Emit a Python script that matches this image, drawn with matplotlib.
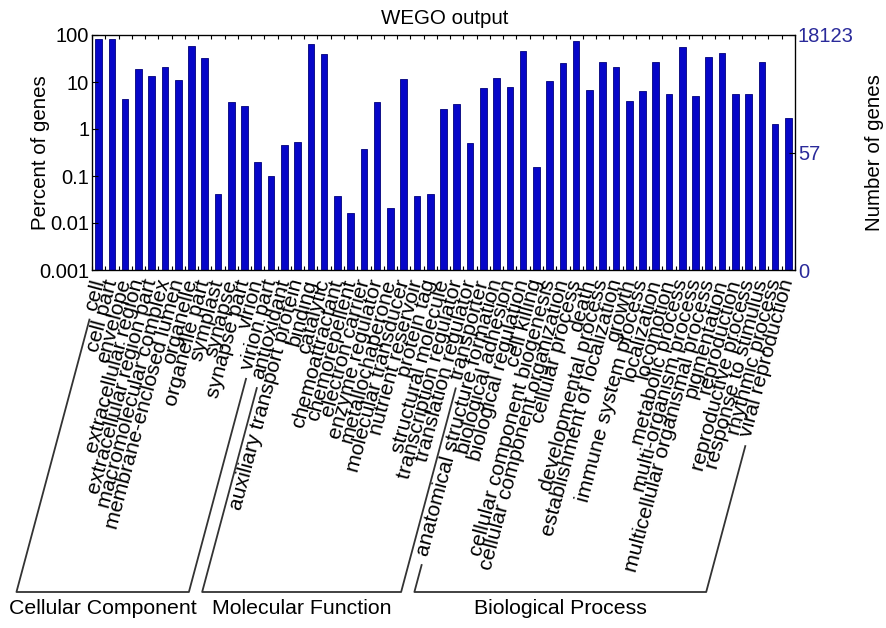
import numpy as np
import matplotlib
matplotlib.use("Agg")
import matplotlib.pyplot as plt
from matplotlib.lines import Line2D

plt.rcParams['font.family'] = ['Liberation Sans', 'DejaVu Sans']

cc_terms = ["cell", "cell part", "envelope", "extracellular region",
            "extracellular region part", "macromolecular complex",
            "membrane-enclosed lumen", "organelle", "organelle part",
            "symplast", "synapse", "synapse part", "virion", "virion part"]
cc_pct = [81, 81, 4.4, 18.5, 13.4, 21, 11, 58, 33, 0.042, 3.8, 3.05, 0.196, 0.1]

mf_terms = ["antioxidant", "auxiliary transport protein", "binding", "catalytic",
            "chemoattractant", "chemorepellent", "electron carrier",
            "enzyme regulator", "metallochaperone", "molecular transducer",
            "nutrient reservoir", "protein tag", "structural molecule",
            "transcription regulator", "translation regulator", "transporter"]
mf_pct = [0.46, 0.52, 65, 38.6, 0.037, 0.016, 0.37, 3.8, 0.021, 11.7,
          0.037, 0.042, 2.7, 3.4, 0.5, 7.5]

bp_terms = ["anatomical structure formation", "biological adhesion",
            "biological regulation", "cell killing",
            "cellular component biogenesis", "cellular component organization",
            "cellular process", "death", "developmental process",
            "establishment of localization", "growth", "immune system process",
            "localization", "locomotion", "metabolic process",
            "multi-organism process", "multicellular organismal process",
            "pigmentation", "reproduction", "reproductive process",
            "response to stimulus", "rhythmic process", "viral reproduction"]
bp_pct = [12.3, 8, 45, 0.155, 10.5, 25, 75, 6.8, 26.7, 21, 4.0, 6.4, 26.7,
          5.5, 55, 5.0, 34.7, 42, 5.6, 5.6, 26.7, 1.3, 1.74]

group_names = ["Cellular Component", "Molecular Function", "Biological Process"]
group_terms = [cc_terms, mf_terms, bp_terms]

y_ticks = [0.001, 0.01, 0.1, 1, 10, 100]
y_ticklabels = ["0.001", "0.01", "0.1", "1", "10", "100"]
total_genes = 18123
right_counts = [0, 57, 18123]
right_labels = ["0", "57", "18123"]

terms = cc_terms + mf_terms + bp_terms
pct = np.array(cc_pct + mf_pct + bp_pct, dtype=float)
n = len(terms)
x = np.arange(n)

W, H, DPI = 886, 628, 100
fig = plt.figure(figsize=(W / DPI, H / DPI), dpi=DPI)
ax = fig.add_axes([92 / W, 1 - 270 / H, (795 - 92) / W, (270 - 35) / H])

ymin = 1e-3
ax.bar(x, pct - ymin, bottom=ymin, width=0.5, color='#0606c8',
       edgecolor='#00007a', linewidth=0.6)
ax.set_yscale('log')
ax.set_ylim(ymin, 100)
ax.set_xlim(-0.5, n - 0.5)

FS = 14.5
FSX = 15.3
ROT = 75
PAD_PT = 7
ax.set_yticks(y_ticks)
ax.set_yticklabels(y_ticklabels, fontsize=FS)
ax.yaxis.set_minor_locator(matplotlib.ticker.NullLocator())
ax.tick_params(axis='y', which='major', direction='in', length=4, width=0.8, pad=2)

ax.set_xticks(x)
ax.set_xticklabels(terms, fontsize=FSX, rotation=ROT, ha='right', va='center',
                   rotation_mode='anchor')
ax.tick_params(axis='x', which='major', length=0, pad=PAD_PT)
ax.set_xticks(np.arange(-0.5, n, 1.0), minor=True)
ax.tick_params(axis='x', which='minor', direction='in', length=3, width=0.8,
               top=True, bottom=True)

ax.set_ylabel('Percent of genes', fontsize=14.8)
ax.yaxis.set_label_coords((50 - 92) / 703, 0.5)

for s in ax.spines.values():
    s.set_linewidth(0.9)

ax2 = ax.twinx()
ax2.set_yscale('log')
ax2.set_ylim(ymin, 100)
rpos = [ymin if c == 0 else c / total_genes * 100 for c in right_counts]
ax2.set_yticks(rpos)
ax2.set_yticklabels(right_labels, fontsize=FS, color='#2a2a9a')
ax2.yaxis.set_minor_locator(matplotlib.ticker.NullLocator())
ax2.tick_params(axis='y', which='major', direction='in', length=4, width=0.8, pad=2)
ax2.set_ylabel('Number of genes', fontsize=14.8)
ax2.yaxis.set_label_coords((865 - 92) / 703, 0.5)

fig.text(445 / W, 1 - 19 / H, 'WEGO output', ha='center', va='center', fontsize=14.8)

# Category brackets
fig.canvas.draw()
r = fig.canvas.get_renderer()
theta = np.deg2rad(ROT)
ya = ax.bbox.y0 - PAD_PT * DPI / 72.0
ybot = H - 592
gap = 9.5

def text_len(s):
    t = fig.text(0, 0, s, fontsize=FSX)
    w = t.get_window_extent(r).width
    t.remove()
    return w

start = 0
for name, tl in zip(group_names, group_terms):
    i0, i1 = start, start + len(tl) - 1
    pts = []
    for idx in (i0, i1):
        xa = ax.transData.transform((idx, 1))[0] + 1.5
        d = text_len(terms[idx]) + gap
        xt, yt = xa - d * np.cos(theta), ya - d * np.sin(theta)
        xb = xa - (ya - ybot) / np.tan(theta)
        pts.append(((xt, yt), (xb, ybot)))
    (lt, lb), (rt, rb) = pts
    xs = [lt[0], lb[0], rb[0], rt[0]]
    ys = [lt[1], lb[1], rb[1], rt[1]]
    fig.add_artist(Line2D(np.array(xs) / W, np.array(ys) / H,
                          transform=fig.transFigure, color='#333333', lw=1.3))
    fig.text((lb[0] + rb[0]) / 2 / W, (ybot - 16) / H, name, ha='center',
             va='center', fontsize=FSX)
    start = i1 + 1

fig.savefig('out.png', dpi=DPI)
